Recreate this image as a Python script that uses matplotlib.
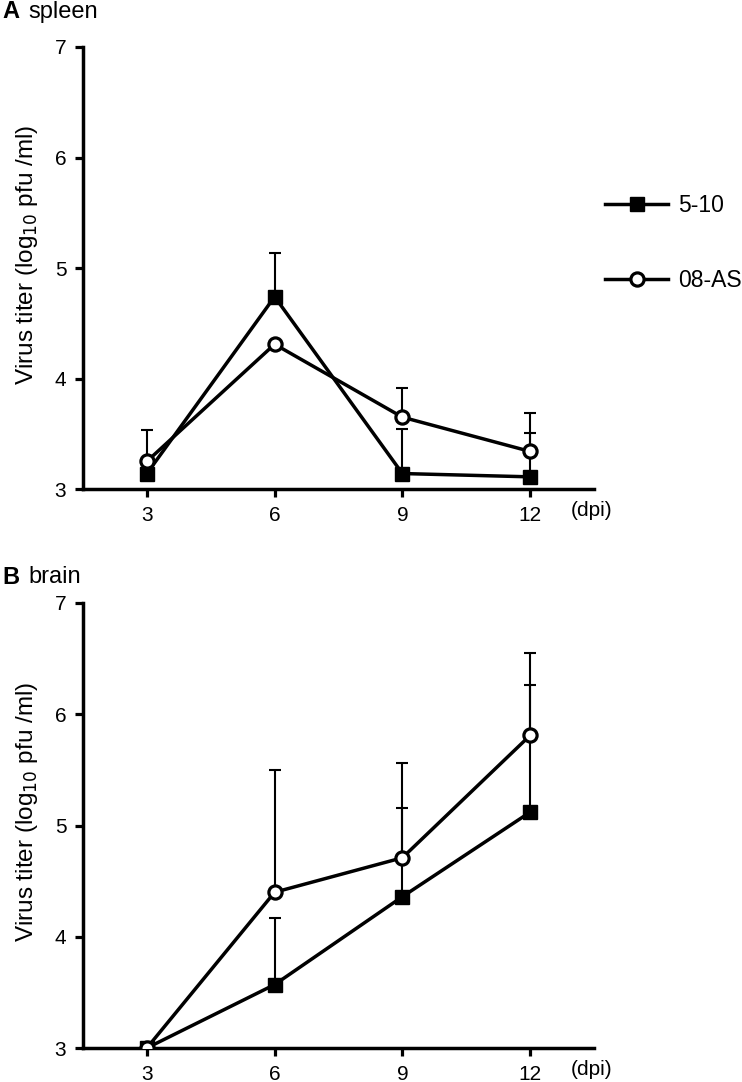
import numpy as np
import matplotlib
matplotlib.use("Agg")
import matplotlib.pyplot as plt
from matplotlib.lines import Line2D

plt.rcParams['font.family'] = ['Liberation Sans', 'DejaVu Sans']

# 感染後天數
dpi_days = [3, 6, 9, 12]

# A: spleen
spleen_510 = [3.14, 4.74, 3.14, 3.11]
spleen_510_err = [0.0, 0.40, 0.40, 0.40]
spleen_08as = [3.25, 4.31, 3.65, 3.34]
spleen_08as_err = [0.28, 0.0, 0.26, 0.35]

# B: brain
brain_510 = [3.0, 3.57, 4.36, 5.12]
brain_510_err = [0.0, 0.60, 0.80, 1.14]
brain_08as = [3.0, 4.40, 4.71, 5.81]
brain_08as_err = [0.0, 1.10, 0.85, 0.74]

panels = [
    ('A', 'spleen', spleen_510, spleen_510_err, spleen_08as, spleen_08as_err),
    ('B', 'brain', brain_510, brain_510_err, brain_08as, brain_08as_err),
]

fig = plt.figure(figsize=(7.42, 10.82), dpi=100)
W, H = 742, 1082
# 軸的像素位置 (left, top-of-7, right, bottom-of-3), 標題 y
boxes = [(83, 47, 594, 489, 12), (83, 603, 594, 1048, 577)]

lw = 2.5
for (letter, tissue, y1, e1, y2, e2), (l, t, r, b, ty) in zip(panels, boxes):
    ax = fig.add_axes([l / W, 1 - b / H, (r - l) / W, (b - t) / H])
    for y, e in ((y1, e1), (y2, e2)):
        ax.errorbar(dpi_days, y, yerr=[np.zeros(len(e)), e], fmt='none',
                    ecolor='black', elinewidth=1.5, capsize=4.5, capthick=1.5, zorder=2)
    ax.plot(dpi_days, y1, '-', color='black', lw=lw, marker='s', ms=10,
            mfc='black', mec='black', zorder=3)
    ax.plot(dpi_days, y2, '-', color='black', lw=lw, marker='o', ms=9.5,
            mfc='white', mec='black', mew=2.3, zorder=4)

    ax.set_xlim(1.5, 13.5)
    ax.set_ylim(3, 7)
    ax.set_xticks(dpi_days)
    ax.set_yticks([3, 4, 5, 6, 7])
    for s in ('top', 'right'):
        ax.spines[s].set_visible(False)
    for s in ('left', 'bottom'):
        ax.spines[s].set_linewidth(2.5)
    ax.tick_params(axis='both', direction='out', length=6, width=2.3, labelsize=15, pad=6)
    ax.set_ylabel('Virus titer (log$_{10}$ pfu /ml)', fontsize=17.5)
    ax.yaxis.set_label_coords((40 - l) / (r - l), 0.53)
    ax.text(0.995, -0.027, '(dpi)', transform=ax.transAxes, fontsize=15,
            ha='center', va='top')
    fig.text(2 / W, 1 - ty / H, letter, fontsize=17, fontweight='bold',
             ha='left', va='center')
    fig.text(28 / W, 1 - ty / H, tissue, fontsize=17, ha='left', va='center')

handles = [
    Line2D([], [], color='black', lw=lw, marker='s', ms=10, mfc='black', mec='black'),
    Line2D([], [], color='black', lw=lw, marker='o', ms=9.5, mfc='white', mec='black', mew=2.3),
]
fig.legend(handles, ['5-10', '08-AS'], loc='center left',
           bbox_to_anchor=(605 / W, 1 - 243 / H), frameon=False, fontsize=16.5,
           handlelength=2.75, labelspacing=2.3, handletextpad=0.45,
           borderpad=0, borderaxespad=0)

fig.savefig('out.png', dpi=100)
